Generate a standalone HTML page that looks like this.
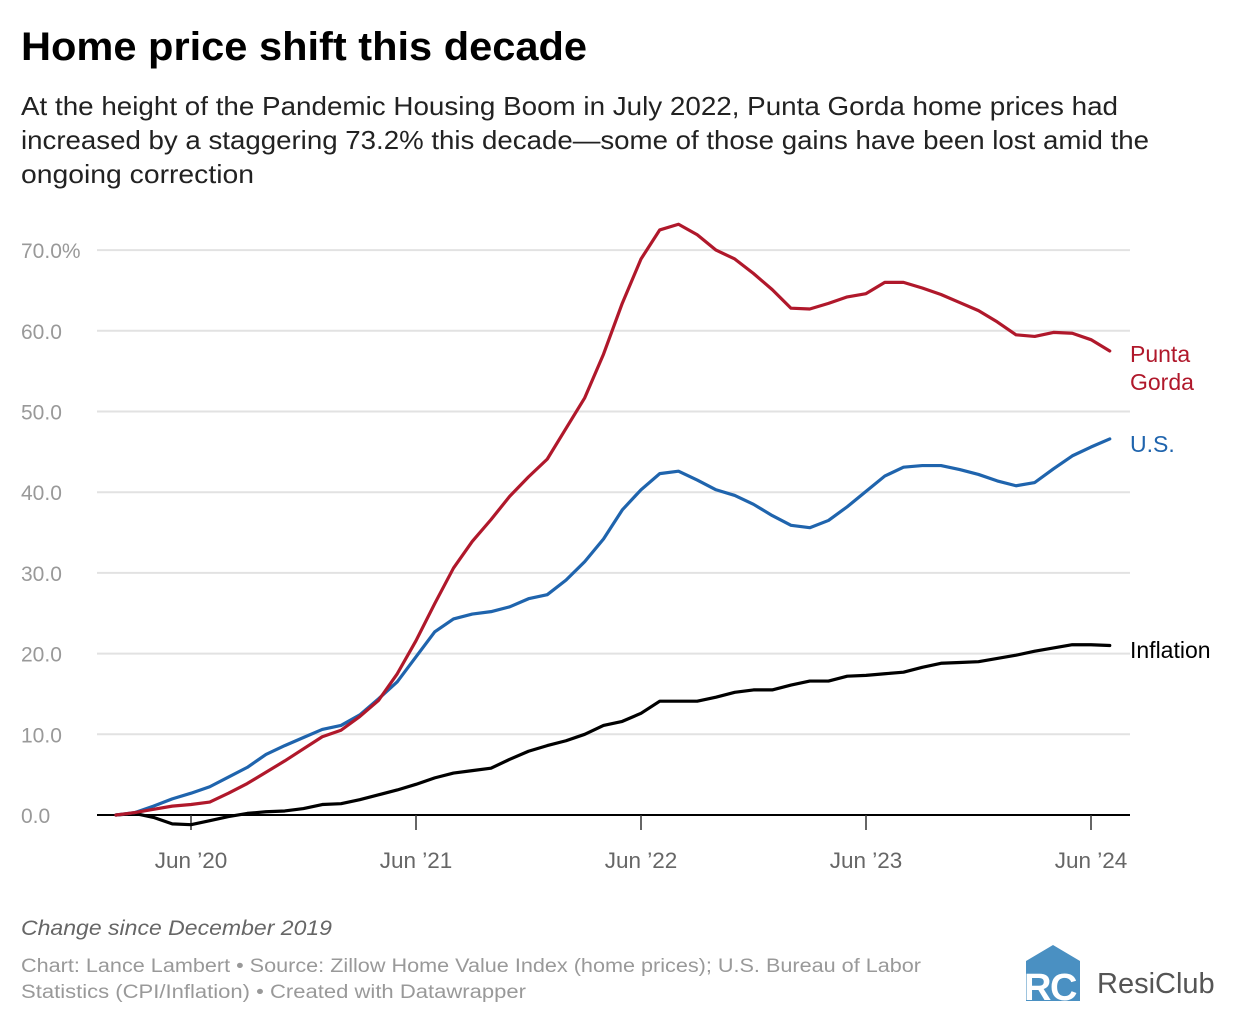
<!DOCTYPE html>
<html><head><meta charset="utf-8"><style>
html,body{margin:0;padding:0;background:#fff;}
svg{display:block;font-family:"Liberation Sans",Arial,sans-serif;}
</style></head><body>
<svg id="chart" width="1240" height="1024" viewBox="0 0 1240 1024">
<text x="21" y="60" font-size="40" font-weight="bold" fill="#000" textLength="566" lengthAdjust="spacingAndGlyphs">Home price shift this decade</text>
<g font-size="26" fill="#222">
<text x="21" y="115" textLength="1097" lengthAdjust="spacingAndGlyphs">At the height of the Pandemic Housing Boom in July 2022, Punta Gorda home prices had</text>
<text x="21" y="149" textLength="1128" lengthAdjust="spacingAndGlyphs">increased by a staggering 73.2% this decade—some of those gains have been lost amid the</text>
<text x="21" y="183" textLength="233" lengthAdjust="spacingAndGlyphs">ongoing correction</text>
</g>
<g id="grid"></g>
<g id="yaxis"></g>
<g id="xaxis"></g>
<g id="lines"></g>
<g font-size="23">
<text x="1130" y="362" fill="#b0182b">Punta</text>
<text x="1130" y="390" fill="#b0182b">Gorda</text>
<text x="1130" y="452" fill="#1f64ad">U.S.</text>
<text x="1130" y="658" fill="#000">Inflation</text>
</g>
<text x="21" y="935" font-size="21" font-style="italic" fill="#666" textLength="311" lengthAdjust="spacingAndGlyphs">Change since December 2019</text>
<g font-size="19" fill="#999">
<text x="21" y="972" textLength="900" lengthAdjust="spacingAndGlyphs">Chart: Lance Lambert • Source: Zillow Home Value Index (home prices); U.S. Bureau of Labor</text>
<text x="21" y="998" textLength="505" lengthAdjust="spacingAndGlyphs">Statistics (CPI/Inflation) • Created with Datawrapper</text>
</g>
<g>
<polygon points="1026,961 1053,945 1080,961 1080,1001 1026,1001" fill="#4a90c2"/>
<text x="1024" y="1000" font-size="38" font-weight="bold" fill="#fff">R</text>
<text x="1050" y="1000" font-size="38" font-weight="bold" fill="#fff">C</text>
<text x="1097" y="993" font-size="29" fill="#555">ResiClub</text>
</g>
</svg>
<script>
const categories = ["Jan 2020","Feb 2020","Mar 2020","Apr 2020","May 2020","Jun 2020","Jul 2020","Aug 2020","Sep 2020","Oct 2020","Nov 2020","Dec 2020","Jan 2021","Feb 2021","Mar 2021","Apr 2021","May 2021","Jun 2021","Jul 2021","Aug 2021","Sep 2021","Oct 2021","Nov 2021","Dec 2021","Jan 2022","Feb 2022","Mar 2022","Apr 2022","May 2022","Jun 2022","Jul 2022","Aug 2022","Sep 2022","Oct 2022","Nov 2022","Dec 2022","Jan 2023","Feb 2023","Mar 2023","Apr 2023","May 2023","Jun 2023","Jul 2023","Aug 2023","Sep 2023","Oct 2023","Nov 2023","Dec 2023","Jan 2024","Feb 2024","Mar 2024","Apr 2024","May 2024","Jun 2024"];
const puntaGorda = [0,0.3,0.7,1.1,1.3,1.6,2.7,3.9,5.3,6.7,8.2,9.7,10.5,12.2,14.2,17.5,21.6,26.2,30.6,33.9,36.6,39.5,41.9,44.1,47.9,51.7,57.1,63.4,68.9,72.5,73.2,71.9,70.0,68.9,67.1,65.1,62.8,62.7,63.4,64.2,64.6,66.0,66.0,65.3,64.5,63.5,62.5,61.1,59.5,59.3,59.8,59.7,58.9,57.5];
const us = [0,0.3,1.1,2.0,2.7,3.5,4.7,5.9,7.5,8.6,9.6,10.6,11.1,12.4,14.4,16.5,19.6,22.7,24.3,24.9,25.2,25.8,26.8,27.3,29.1,31.4,34.2,37.8,40.3,42.3,42.6,41.5,40.3,39.6,38.5,37.1,35.9,35.6,36.5,38.2,40.1,42.0,43.1,43.3,43.3,42.8,42.2,41.4,40.8,41.2,42.9,44.5,45.6,46.6];
const inflation = [0,0.2,-0.3,-1.1,-1.2,-0.7,-0.2,0.2,0.4,0.5,0.8,1.3,1.4,1.9,2.5,3.1,3.8,4.6,5.2,5.5,5.8,6.9,7.9,8.6,9.2,10.0,11.1,11.6,12.6,14.1,14.1,14.1,14.6,15.2,15.5,15.5,16.1,16.6,16.6,17.2,17.3,17.5,17.7,18.3,18.8,18.9,19.0,19.4,19.8,20.3,20.7,21.1,21.1,21.0];
const yTicks = [0,10,20,30,40,50,60,70];
const yTickLabels = ["0.0","10.0","20.0","30.0","40.0","50.0","60.0","70.0%"];
const xTickIndex = [4,16,28,40,52];
const xTickLabels = ["Jun ’20","Jun ’21","Jun ’22","Jun ’23","Jun ’24"];

const NS = "http://www.w3.org/2000/svg";
const x = i => 116 + i * 18.75;
const y = v => 815 - v * 8.07;
function mk(tag, attrs, parent){ const e=document.createElementNS(NS,tag); for(const k in attrs) e.setAttribute(k,attrs[k]); parent.appendChild(e); return e; }
const grid=document.getElementById('grid'), yaxis=document.getElementById('yaxis'), xaxis=document.getElementById('xaxis'), lines=document.getElementById('lines');
yTicks.forEach((t,k)=>{
  if(t!==0){
    const g=mk('line',{x1:97,x2:1130,y1:y(t),y2:y(t),stroke:'#e2e2e2','stroke-width':2},grid);
    
    
  }
  const tx=mk('text',{x:21,y:y(t)+8,'font-size':21,fill:'#999'},yaxis);
  
  
  tx.textContent=yTickLabels[k];
});
const base=mk('line',{x1:97,x2:1130,y1:y(0),y2:y(0),stroke:'#000','stroke-width':2},xaxis);


xTickIndex.forEach((i,k)=>{
  const tk=mk('line',{x1:x(i),x2:x(i),y1:y(0),y2:y(0)+15,stroke:'#333','stroke-width':1.5},xaxis);
  
  
  const tl=mk('text',{x:x(i),y:868,'font-size':22.5,fill:'#666','text-anchor':'middle'},xaxis);
  
  
  tl.textContent=xTickLabels[k];
});
function drawLine(vals,color,name){
  const d=vals.map((v,i)=>(i?'L':'M')+x(i).toFixed(2)+','+y(v).toFixed(2)).join(' ');
  const p=mk('path',{d:d,fill:'none',stroke:color,'stroke-width':3.2,'stroke-linejoin':'round','stroke-linecap':'round'},lines);
  
  
}
drawLine(inflation,'#000','inflation-line');
drawLine(us,'#1f64ad','us-line');
drawLine(puntaGorda,'#b0182b','punta-gorda-line');
</script>
</body></html>
